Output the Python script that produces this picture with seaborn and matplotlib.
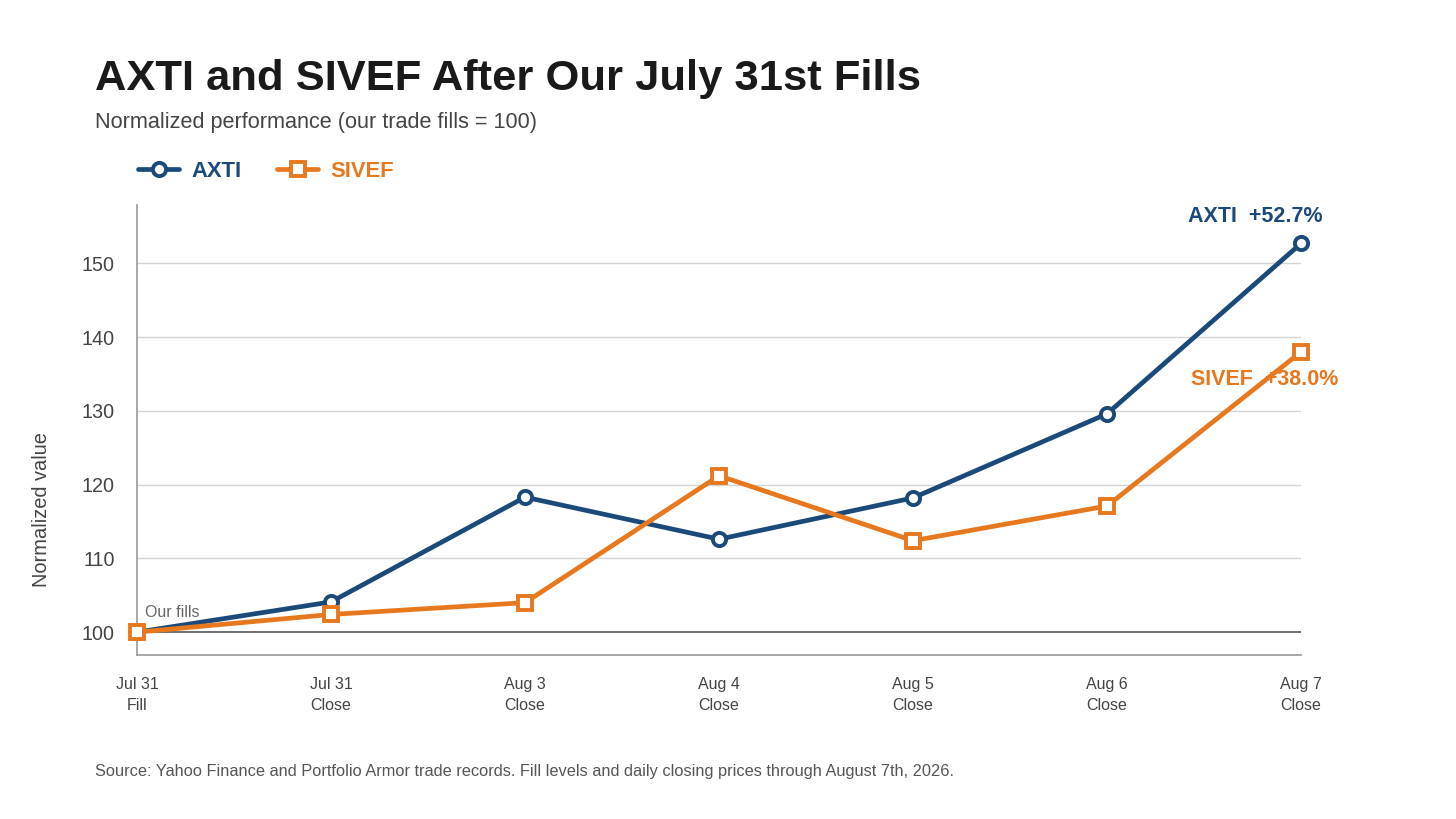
import matplotlib
matplotlib.use("Agg")
import matplotlib.pyplot as plt
import seaborn as sns
import pandas as pd

# valores normalizados (fills = 100)
etiquetas = ["Jul 31\nFill", "Jul 31\nClose", "Aug 3\nClose", "Aug 4\nClose",
             "Aug 5\nClose", "Aug 6\nClose", "Aug 7\nClose"]
axti = [100, 104.1, 118.3, 112.6, 118.2, 129.6, 152.7]
sivef = [100, 102.4, 104.0, 121.2, 112.4, 117.1, 138.0]
tickers = ["AXTI", "SIVEF"]
colores = {"AXTI": "#1b4a7a", "SIVEF": "#e8781e"}
marcadores = {"AXTI": "o", "SIVEF": "s"}

df = pd.DataFrame({
    "paso": list(range(len(etiquetas))) * 2,
    "valor": axti + sivef,
    "ticker": ["AXTI"] * len(axti) + ["SIVEF"] * len(sivef),
})

sns.set_style("white")
plt.rcParams["font.family"] = ["Liberation Sans", "DejaVu Sans"]

fig = plt.figure(figsize=(14.56, 8.19), dpi=100)
ax = fig.add_axes([0.0941, 0.2002, 0.7995, 0.5495])

sns.lineplot(data=df, x="paso", y="valor", hue="ticker", style="ticker",
             palette=colores, markers=marcadores, dashes=False, linewidth=3.4,
             markersize=9.5, markeredgewidth=2.8, markerfacecolor="white",
             ax=ax, legend=False, zorder=3)
for l in ax.lines:
    l.set_markeredgecolor(l.get_color())
    l.set_clip_on(False)

ax.set_xlim(0, 6)
ax.set_ylim(96.9, 157.9)
ax.set_yticks([100, 110, 120, 130, 140, 150])
ax.set_xticks(range(len(etiquetas)))
ax.set_xticklabels(etiquetas, fontsize=11.5, color="#444444", linespacing=1.45)
ax.tick_params(axis="y", labelsize=14.2, colors="#444444", length=0, pad=16)
ax.tick_params(axis="x", length=0, pad=16)

for v in [110, 120, 130, 140, 150]:
    ax.axhline(v, color="#d4d4d4", linewidth=1, zorder=1)
ax.axhline(100, color="#555555", linewidth=1.2, zorder=2)

for s in ["top", "right"]:
    ax.spines[s].set_visible(False)
ax.spines["left"].set_color("#999999")
ax.spines["bottom"].set_color("#999999")
ax.spines["left"].set_linewidth(1.2)
ax.spines["bottom"].set_linewidth(1.2)

ax.set_xlabel("")
ax.set_ylabel("Normalized value", fontsize=14.4, color="#444444")
ax.yaxis.set_label_coords(-0.074, 0.324)

ax.text(0.04, 102.1, "Our fills", fontsize=11.5, color="#666666")
ax.text(6.113, 156.4, "AXTI  +52.7%", fontsize=15.5, fontweight="bold",
        color=colores["AXTI"], ha="right", va="center")
ax.text(6.19, 134.3, "SIVEF  +38.0%", fontsize=15.5, fontweight="bold",
        color=colores["SIVEF"], ha="right", va="center", zorder=1)

# leyenda manual arriba
handles = []
for t in tickers:
    h, = ax.plot([], [], color=colores[t], marker=marcadores[t], linewidth=3.4,
                 markersize=9.5, markeredgewidth=2.8, markerfacecolor="white",
                 markeredgecolor=colores[t])
    handles.append(h)
leg = fig.legend(handles, tickers, loc="center left", bbox_to_anchor=(0.081, 0.791),
                 ncol=2, frameon=False, fontsize=15.8, handlelength=1.9,
                 columnspacing=1.6, handletextpad=0.55)
for txt, t in zip(leg.get_texts(), tickers):
    txt.set_color(colores[t])
    txt.set_fontweight("bold")

fig.text(0.0652, 0.904, "AXTI and SIVEF After Our July 31st Fills", fontsize=31.3,
         fontweight="bold", color="#1a1a1a", va="center")
fig.text(0.0652, 0.851, "Normalized performance (our trade fills = 100)", fontsize=15.6,
         color="#444444", va="center")
fig.text(0.0652, 0.058, "Source: Yahoo Finance and Portfolio Armor trade records. Fill levels and daily closing prices through August 7th, 2026.",
         fontsize=11.8, color="#555555", va="center")

fig.savefig("out.png", dpi=100)
